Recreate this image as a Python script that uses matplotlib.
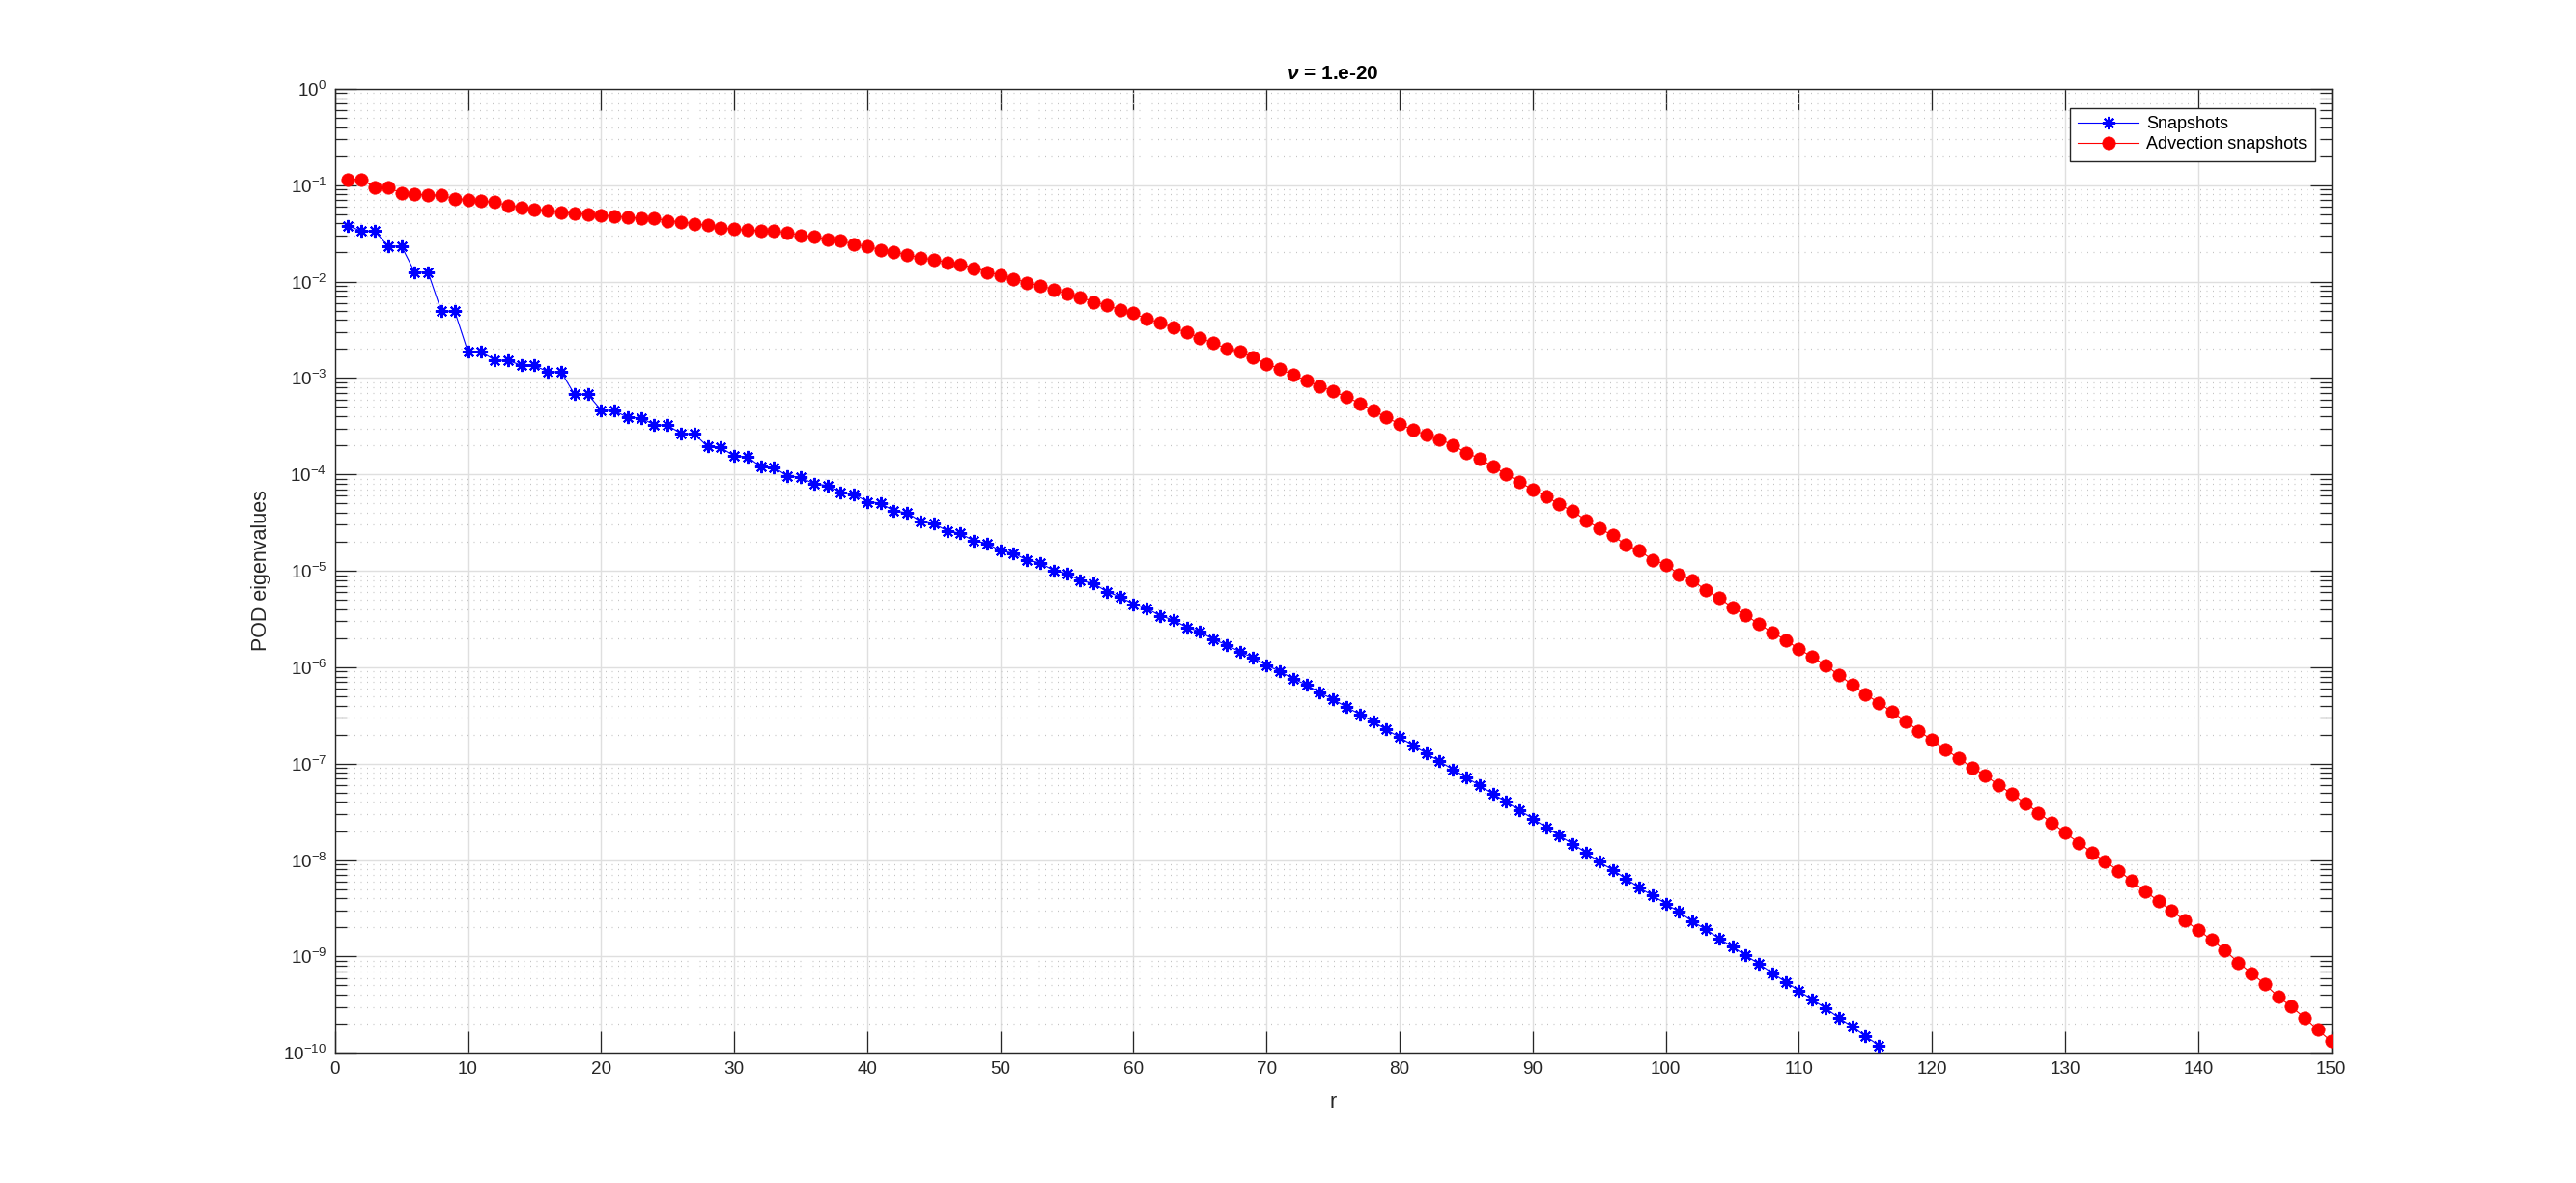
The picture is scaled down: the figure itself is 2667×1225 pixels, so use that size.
import numpy as np
import matplotlib
matplotlib.use("Agg")
import matplotlib.pyplot as plt
from matplotlib.ticker import LogLocator, FixedLocator, NullFormatter

plt.rcParams['font.family'] = ['Liberation Sans', 'DejaVu Sans']
plt.rcParams['mathtext.fontset'] = 'custom'
plt.rcParams['mathtext.rm'] = 'Liberation Sans'
plt.rcParams['mathtext.it'] = 'Liberation Sans:italic:bold'
plt.rcParams['mathtext.bf'] = 'Liberation Sans:bold'

title_text = r'$\nu$ = 1.e-20'
x_label = 'r'
y_label = 'POD eigenvalues'
legend_labels = ['Snapshots', 'Advection snapshots']
x_ticks = list(range(0, 151, 10))

# log10 of the eigenvalues
log10_snapshots = [
    -1.423, -1.477, -1.477, -1.633, -1.633, -1.903, -1.903, -2.307, -2.307, -2.730,
    -2.730, -2.813, -2.820, -2.867, -2.870, -2.937, -2.937, -3.170, -3.170, -3.333,
    -3.340, -3.410, -3.413, -3.487, -3.490, -3.577, -3.580, -3.710, -3.720, -3.810,
    -3.820, -3.920, -3.928, -4.017, -4.030, -4.100, -4.114, -4.190, -4.204, -4.284,
    -4.297, -4.381, -4.397, -4.488, -4.511, -4.585, -4.611, -4.690, -4.714, -4.794,
    -4.816, -4.890, -4.917, -4.997, -5.027, -5.103, -5.130, -5.217, -5.270, -5.347,
    -5.388, -5.467, -5.510, -5.587, -5.630, -5.713, -5.767, -5.843, -5.900, -5.980,
    -6.043, -6.120, -6.183, -6.263, -6.333, -6.413, -6.487, -6.563, -6.647, -6.727,
    -6.810, -6.893, -6.977, -7.060, -7.143, -7.227, -7.313, -7.397, -7.483, -7.570,
    -7.660, -7.748, -7.832, -7.923, -8.019, -8.103, -8.192, -8.287, -8.368, -8.452,
    -8.540, -8.636, -8.720, -8.812, -8.900, -8.989, -9.077, -9.172, -9.264, -9.356,
    -9.448, -9.536, -9.636, -9.728, -9.828, -9.923,
]

log10_advection = [
    -0.940, -0.940, -1.023, -1.023, -1.083, -1.097, -1.100, -1.107, -1.140, -1.150,
    -1.167, -1.177, -1.210, -1.230, -1.250, -1.260, -1.280, -1.293, -1.300, -1.310,
    -1.320, -1.333, -1.343, -1.343, -1.370, -1.380, -1.400, -1.417, -1.443, -1.457,
    -1.467, -1.473, -1.477, -1.493, -1.520, -1.533, -1.563, -1.577, -1.613, -1.637,
    -1.670, -1.693, -1.727, -1.750, -1.777, -1.800, -1.820, -1.860, -1.900, -1.933,
    -1.970, -2.013, -2.043, -2.083, -2.127, -2.163, -2.210, -2.247, -2.293, -2.330,
    -2.387, -2.427, -2.480, -2.527, -2.583, -2.640, -2.693, -2.730, -2.787, -2.853,
    -2.907, -2.967, -3.027, -3.083, -3.140, -3.197, -3.263, -3.337, -3.410, -3.477,
    -3.540, -3.590, -3.633, -3.697, -3.777, -3.833, -3.920, -3.993, -4.080, -4.157,
    -4.227, -4.310, -4.383, -4.475, -4.560, -4.633, -4.730, -4.789, -4.885, -4.936,
    -5.036, -5.100, -5.200, -5.280, -5.380, -5.460, -5.552, -5.640, -5.716, -5.812,
    -5.893, -5.980, -6.080, -6.180, -6.280, -6.368, -6.464, -6.560, -6.659, -6.755,
    -6.854, -6.943, -7.038, -7.123, -7.222, -7.314, -7.410, -7.510, -7.613, -7.716,
    -7.820, -7.920, -8.015, -8.110, -8.215, -8.322, -8.425, -8.525, -8.628, -8.724,
    -8.828, -8.935, -9.061, -9.172, -9.287, -9.414, -9.521, -9.636, -9.762, -9.881,
]

snap_vals = 10.0 ** np.array(log10_snapshots)
adv_vals = 10.0 ** np.array(log10_advection)
r_snap = np.arange(1, len(snap_vals) + 1)
r_adv = np.arange(1, len(adv_vals) + 1)

fig = plt.figure(figsize=(26.67, 12.25), dpi=100)
ax = fig.add_axes([0.13, 0.11, 0.775, 0.815])

axc = '#262626'
asterisk = (8, 2, 0)
ax.plot(r_snap, snap_vals, color='blue', linewidth=0.8, marker=asterisk,
        markersize=9.5, markeredgewidth=1.5, markeredgecolor='blue',
        label=legend_labels[0], zorder=3)
ax.plot(r_adv, adv_vals, color='red', linewidth=0.8, marker='o',
        markersize=9.6, markerfacecolor='red', markeredgecolor='red',
        markeredgewidth=0.5, label=legend_labels[1], zorder=3)

ax.set_yscale('log')
ax.set_xlim(0, 150)
ax.set_ylim(1e-10, 1)
ax.xaxis.set_major_locator(FixedLocator(x_ticks))
ax.yaxis.set_major_locator(LogLocator(base=10, numticks=20))
ax.yaxis.set_minor_locator(LogLocator(base=10, subs=np.arange(2, 10), numticks=20))
ax.yaxis.set_minor_formatter(NullFormatter())

ax.grid(True, which='major', axis='both', color='#dfdfdf', linewidth=1.0, linestyle='-')
ax.grid(True, which='minor', axis='y', color='#c4c4c4', linewidth=0.9,
        linestyle=(0, (0.8, 4.4)))
ax.set_axisbelow(True)

ax.tick_params(axis='both', which='major', direction='in', length=15.5, width=0.9,
               color=axc, labelcolor=axc, labelsize=13.6, top=True, right=True, pad=6)
ax.tick_params(axis='y', which='minor', direction='in', length=8.4, width=0.9,
               color=axc, left=True, right=True)
ax.tick_params(axis='x', which='minor', bottom=False, top=False)
for s in ax.spines.values():
    s.set_color(axc)
    s.set_linewidth(1.0)

ax.set_title(title_text, fontsize=15, fontweight='bold', color='black', pad=7)
ax.set_xlabel(x_label, fontsize=15.5, color=axc)
ax.set_ylabel(y_label, fontsize=15.5, color=axc)
ax.xaxis.set_label_coords(0.5, -0.041)
ax.yaxis.set_label_coords(-0.032, 0.5)

leg = ax.legend(loc='upper right', bbox_to_anchor=(0.9918, 0.98), fontsize=13,
                frameon=True, fancybox=False, shadow=False, framealpha=1.0,
                edgecolor=axc, handlelength=3.5, borderpad=0.45, labelspacing=0.25,
                handletextpad=0.45, borderaxespad=0.0)
leg.get_frame().set_linewidth(1.0)

fig.savefig('out.png', dpi=100, facecolor='white')
